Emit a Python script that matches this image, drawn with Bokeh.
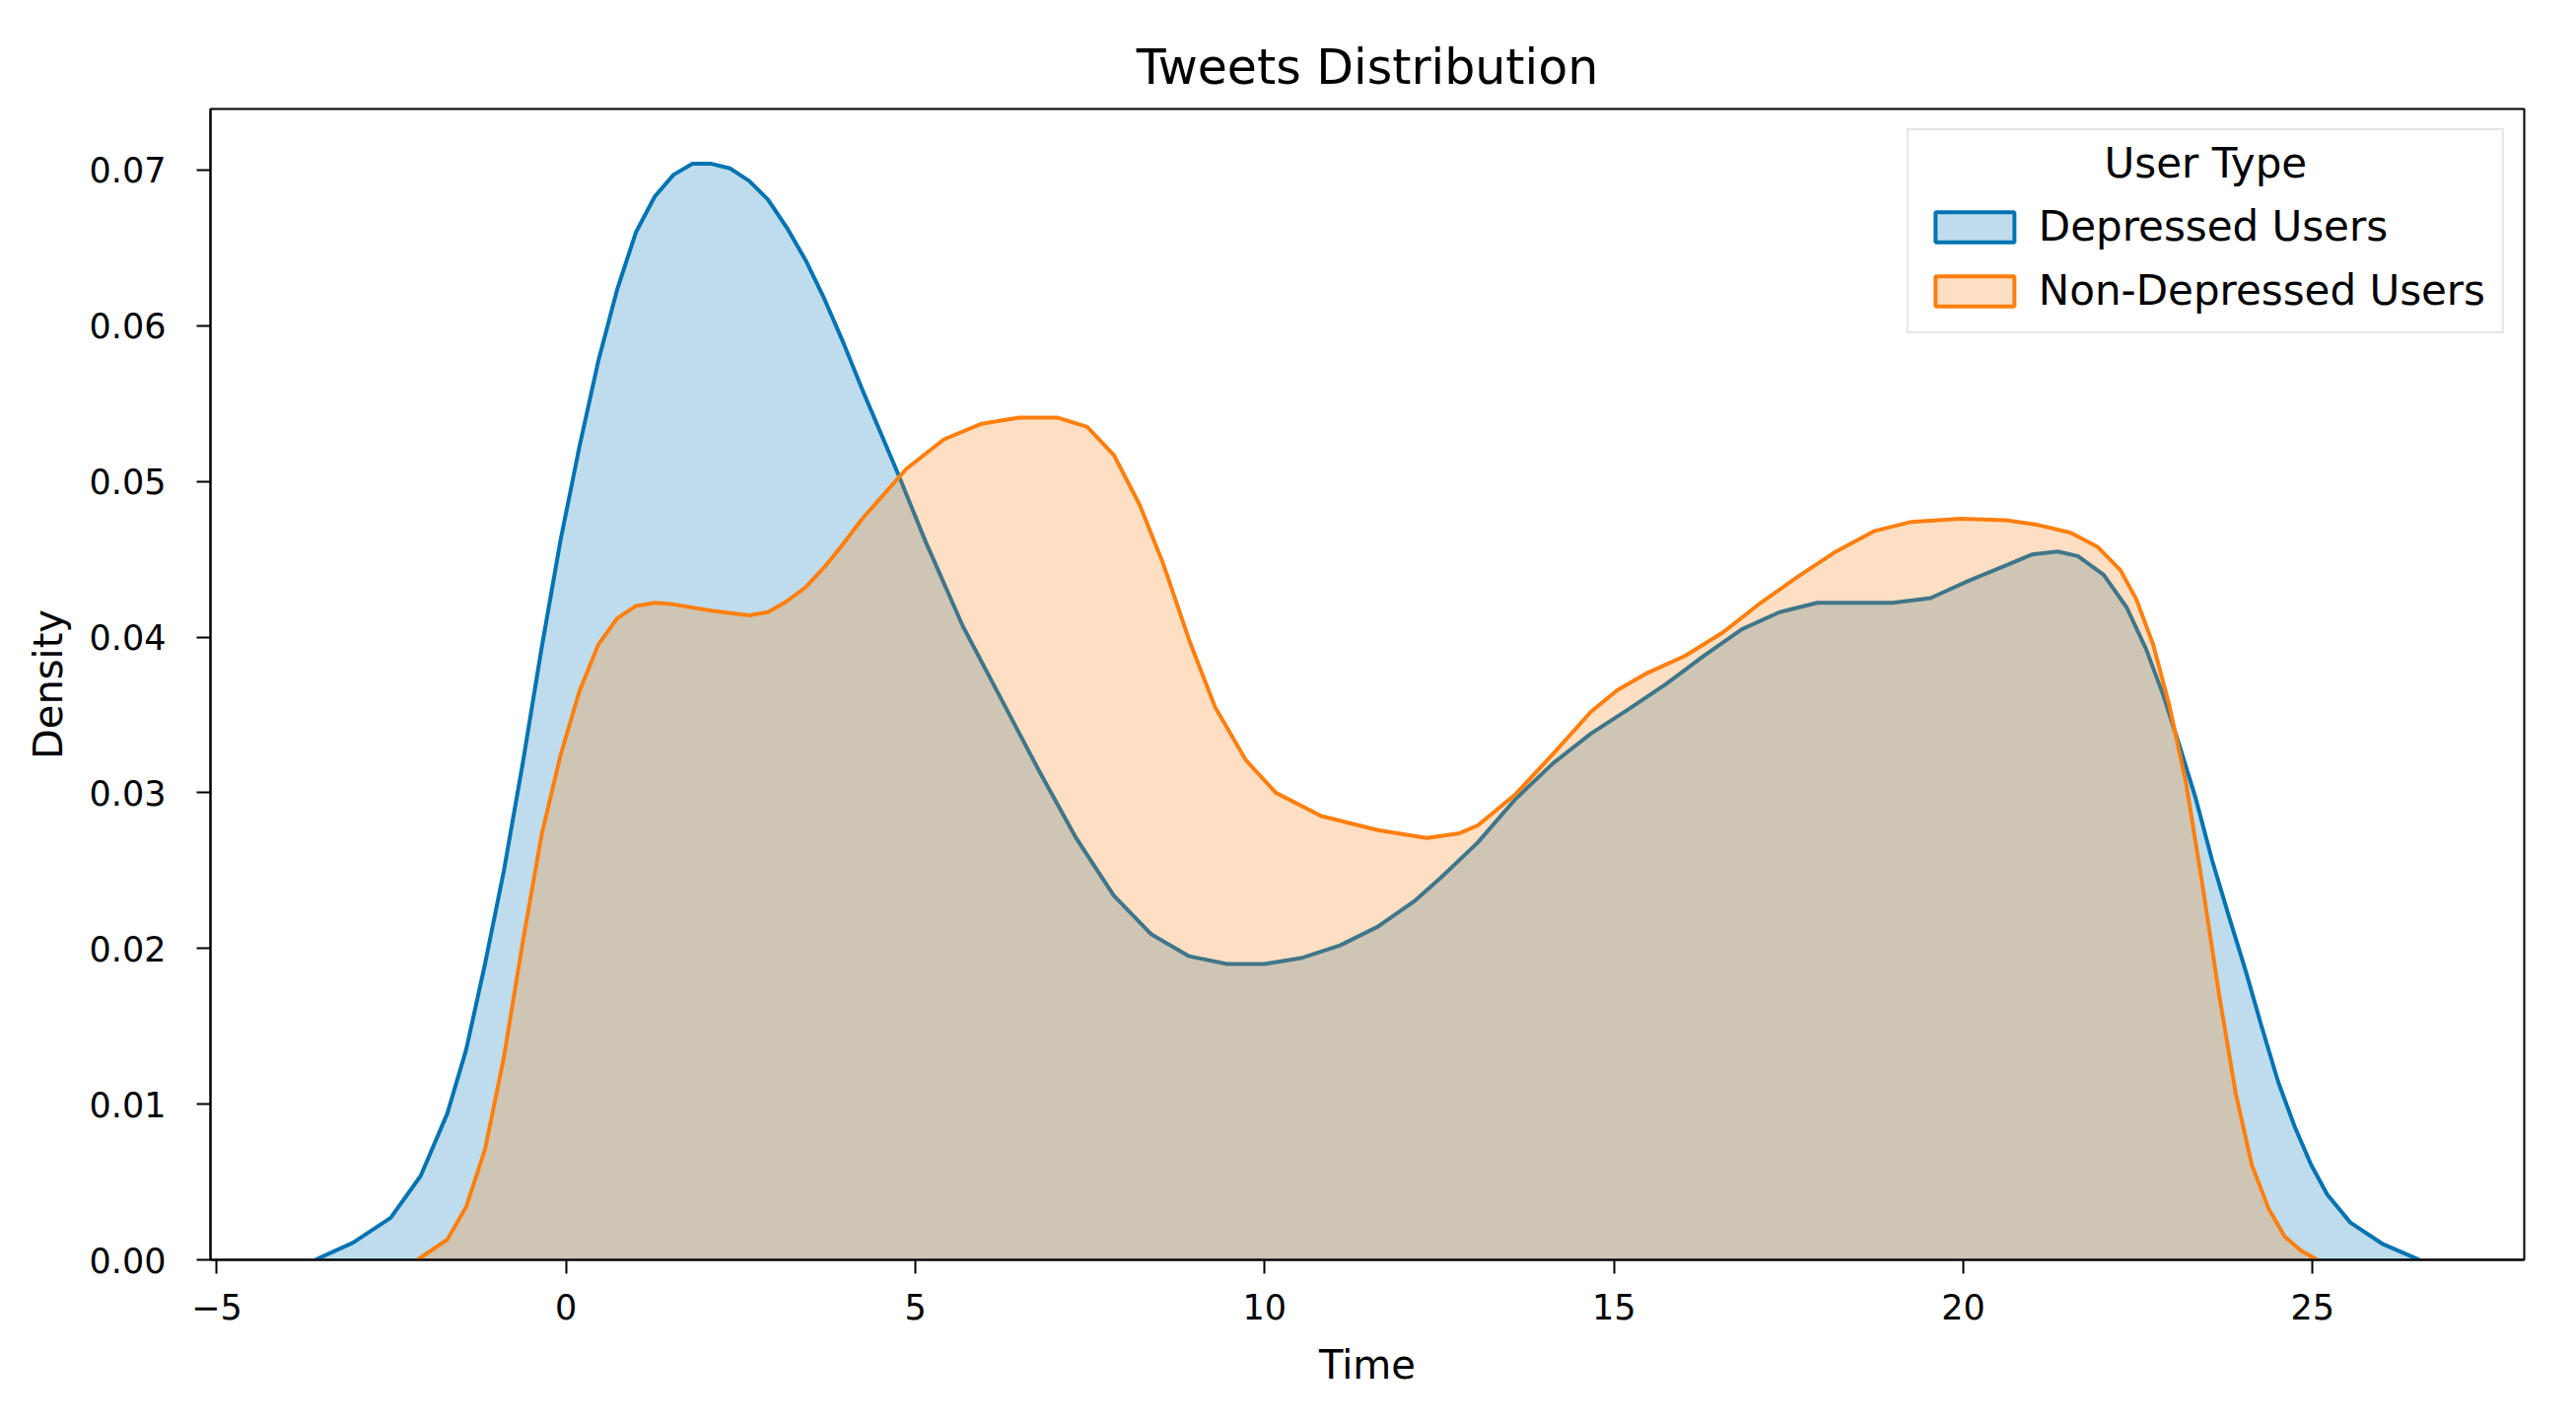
from bokeh.plotting import figure
from bokeh.models import Range1d, FixedTicker, PrintfTickFormatter, Legend, LegendItem, Label
from bokeh.embed import file_html
from bokeh.resources import INLINE

# ---- data ----
dep_x = [-3.59, -3.05, -2.51, -2.08, -1.70, -1.43, -1.16, -0.89, -0.62, -0.35, -0.08, 0.19, 0.46,
         0.73, 1.00, 1.27, 1.54, 1.81, 2.08, 2.35, 2.62, 2.89, 3.16, 3.43, 3.70, 3.97, 4.24, 4.76,
         5.14, 5.68, 6.22, 6.76, 7.30, 7.84, 8.38, 8.92, 9.46, 10.00, 10.54, 11.08, 11.62, 12.16,
         12.51, 13.05, 13.59, 14.13, 14.67, 15.22, 15.75, 16.29, 16.83, 17.37, 17.91, 18.45, 18.99,
         19.53, 20.07, 20.61, 20.98, 21.35, 21.64, 22.01, 22.34, 22.62, 22.86, 23.09, 23.33, 23.56,
         23.80, 24.04, 24.27, 24.51, 24.74, 24.98, 25.21, 25.54, 26.01, 26.53]
dep_y = [0.0, 0.0011, 0.0027, 0.0054, 0.0094, 0.0135, 0.0190, 0.0250, 0.0319, 0.0393, 0.0462, 0.0522,
         0.0577, 0.0623, 0.0660, 0.0683, 0.0697, 0.0704, 0.0704, 0.0701, 0.0693, 0.0681, 0.0663, 0.0642,
         0.0617, 0.0589, 0.0559, 0.0504, 0.0462, 0.0407, 0.0361, 0.0315, 0.0271, 0.0234, 0.0209, 0.0195,
         0.0190, 0.0190, 0.0194, 0.0202, 0.0214, 0.0231, 0.0245, 0.0268, 0.0296, 0.0319, 0.0338, 0.0354,
         0.0370, 0.0388, 0.0405, 0.0416, 0.0422, 0.0422, 0.0422, 0.0425, 0.0436, 0.0446, 0.0453, 0.0455,
         0.0452, 0.0440, 0.0419, 0.0392, 0.0363, 0.0331, 0.0296, 0.0257, 0.0221, 0.0186, 0.0150, 0.0114,
         0.0086, 0.0061, 0.0042, 0.0024, 0.0010, 0.0]

non_x = [-2.13, -1.70, -1.43, -1.16, -0.89, -0.62, -0.35, -0.08, 0.19, 0.46, 0.73, 1.00, 1.27, 1.54,
         2.08, 2.62, 2.89, 3.16, 3.43, 3.70, 3.97, 4.24, 4.87, 5.41, 5.95, 6.49, 7.03, 7.46, 7.84,
         8.21, 8.54, 8.92, 9.29, 9.73, 10.16, 10.81, 11.62, 12.32, 12.79, 13.05, 13.59, 14.13, 14.67,
         15.05, 15.48, 16.02, 16.56, 17.10, 17.64, 18.18, 18.72, 19.26, 19.96, 20.61, 21.07, 21.54,
         21.92, 22.25, 22.48, 22.72, 22.95, 23.19, 23.42, 23.66, 23.90, 24.13, 24.37, 24.60, 24.83, 25.07]
non_y = [0.0, 0.0013, 0.0034, 0.0071, 0.0130, 0.0204, 0.0273, 0.0324, 0.0365, 0.0395, 0.0412, 0.0420,
         0.0422, 0.0421, 0.0417, 0.0414, 0.0416, 0.0423, 0.0432, 0.0445, 0.0460, 0.0476, 0.0508, 0.0527,
         0.0537, 0.0541, 0.0541, 0.0535, 0.0517, 0.0485, 0.0448, 0.0398, 0.0355, 0.0321, 0.0300, 0.0285,
         0.0276, 0.0271, 0.0274, 0.0279, 0.0299, 0.0325, 0.0352, 0.0366, 0.0377, 0.0388, 0.0403, 0.0422,
         0.0439, 0.0455, 0.0468, 0.0474, 0.0476, 0.0475, 0.0472, 0.0467, 0.0458, 0.0443, 0.0424, 0.0395,
         0.0356, 0.0306, 0.0242, 0.0171, 0.0107, 0.0061, 0.0033, 0.0015, 0.0006, 0.0]

series_names = ["Depressed Users", "Non-Depressed Users"]
series_colors = ["#0173b2", "#ff7f0e"]
legend_title = "User Type"
x_ticks = [-5, 0, 5, 10, 15, 20, 25]
y_ticks = [0.00, 0.01, 0.02, 0.03, 0.04, 0.05, 0.06, 0.07]

FONT = "DejaVu Sans"
X0, X1 = -5.09, 28.03
Y0, Y1 = 0.0, 0.07392

p = figure(width=2597, height=1430, output_backend="svg", toolbar_location=None,
           x_range=Range1d(X0, X1), y_range=Range1d(Y0, Y1),
           min_border_left=213, min_border_right=37, min_border_top=110, min_border_bottom=153,
           title="Tweets Distribution")

p.title.text_font = FONT
p.title.text_font_size = "49px"
p.title.text_font_style = "normal"
p.title.align = "center"
p.title.text_color = "black"
p.title.standoff = 27

p.xgrid.visible = False
p.ygrid.visible = False
p.outline_line_color = "black"
p.outline_line_width = 2
p.outline_line_alpha = 1

renderers = []
for xs, ys, col in [(dep_x, dep_y, series_colors[0]), (non_x, non_y, series_colors[1])]:
    p.varea(x=xs, y1=[0] * len(xs), y2=ys, fill_color=col, fill_alpha=0.25)
    p.line(x=xs, y=ys, line_color=col, line_width=4, line_join="round")
    # zero-size, hidden proxy used only for the legend swatch
    proxy = p.quad(left=[xs[0]], right=[xs[0]], top=[ys[0]], bottom=[ys[0]], fill_color=col,
                   fill_alpha=0.25, line_color=col, line_width=4, visible=False)
    renderers.append(proxy)

# axes
p.xaxis.ticker = FixedTicker(ticks=x_ticks)
p.xaxis.major_label_overrides = {-5: "\u22125"}
p.yaxis.ticker = FixedTicker(ticks=y_ticks)
p.yaxis.formatter = PrintfTickFormatter(format="%.2f")
for ax in [p.xaxis[0], p.yaxis[0]]:
    ax.axis_line_color = "black"
    ax.axis_line_width = 2
    ax.major_tick_line_color = "black"
    ax.major_tick_line_width = 2
    ax.major_tick_out = 14
    ax.major_tick_in = 0
    ax.minor_tick_line_color = None
    ax.major_label_text_font = FONT
    ax.major_label_text_font_size = "35px"
    ax.major_label_text_color = "black"
    ax.axis_label_text_font = FONT
    ax.axis_label_text_font_size = "40px"
    ax.axis_label_text_font_style = "normal"
    ax.axis_label_text_color = "black"
p.xaxis.axis_label = "Time"
p.yaxis.axis_label = "Density"
p.xaxis.major_label_standoff = 20
p.yaxis.major_label_standoff = 31
p.xaxis.axis_label_standoff = 20
p.yaxis.axis_label_standoff = 16

legend = Legend(items=[LegendItem(label=series_names[i], renderers=[renderers[i]]) for i in range(2)],
                location="top_right", title=legend_title)
legend.title_text_font = FONT
legend.title_text_font_size = "42px"
legend.title_text_font_style = "normal"
legend.title_text_alpha = 0.0   # space holder; the visible, centred title is a Label below
legend.title_standoff = 7
legend.label_text_font = FONT
legend.label_text_font_size = "42px"
legend.label_text_color = "black"
legend.glyph_width = 100
legend.glyph_height = 38
legend.label_standoff = 15
legend.padding = 17
legend.spacing = 16
legend.margin = 20
legend.border_line_color = "#cccccc"
legend.border_line_width = 2
legend.background_fill_alpha = 0.0
p.add_layout(legend)

p.add_layout(Label(x=23.47, y=0.07044, text=legend_title, text_align="center", text_baseline="middle",
                   text_font=FONT, text_font_size="42px", text_color="black", level="overlay"))

open("out.html", "w").write(file_html(p, INLINE))
